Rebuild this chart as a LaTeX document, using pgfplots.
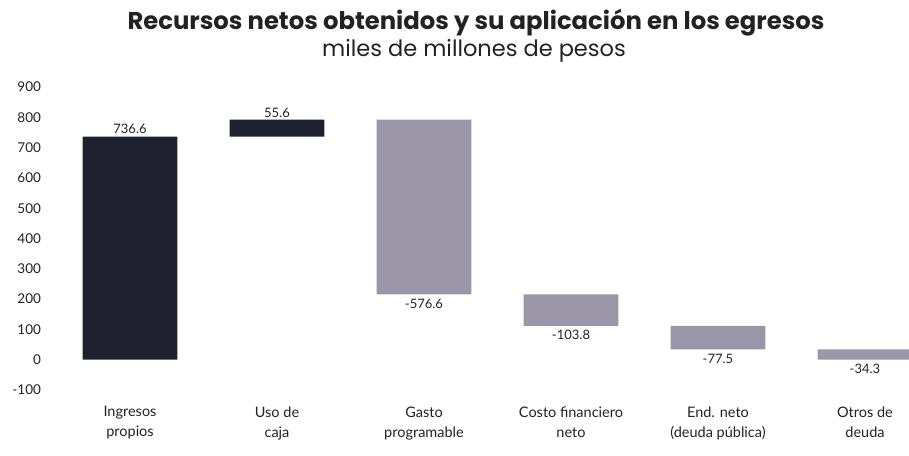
\documentclass[border=0pt]{standalone}
\usepackage{fontspec}
\setmainfont{Lato}
\newfontfamily\titlefont{Poppins}
\usepackage{pgfplots}
\usepackage{pgfplotstable}
\pgfplotsset{compat=1.18}
\definecolor{darkbar}{HTML}{1F222E}
\definecolor{greybar}{HTML}{9C97A8}
\definecolor{txt}{HTML}{222222}

\pgfplotstableread{
x base dark grey
0 0     736.6 0
1 736.6 55.6  0
2 215.6 0     576.6
3 111.8 0     103.8
4 34.3  0     77.5
5 0     0     34.3
}\wf

\pgfplotstableread{
x y label
0 736.6 736.6
1 792.2 55.6
}\poslab

\pgfplotstableread{
x y label
2 215.6 -576.6
3 111.8 -103.8
4 34.3 -77.5
5 0 -34.3
}\neglab

\begin{document}
\begin{tikzpicture}[x=1pt,y=1pt]
\path[use as bounding box] (0,0) rectangle (909,455);
\node[font=\titlefont\bfseries\fontsize{24.3}{28}\selectfont, text=txt] at (476,432) {Recursos netos obtenidos y su aplicación en los egresos};
\node[font=\titlefont\fontsize{22.5}{26}\selectfont, text=txt] at (474,404) {miles de millones de pesos};

\begin{axis}[
  at={(56.5pt,65pt)}, anchor=south west,
  scale only axis, width=882pt, height=303pt,
  xmin=-0.5, xmax=5.5, ymin=-100, ymax=900,
  axis line style={draw=none},
  major tick length=0pt,
  ytick={-100,0,100,...,900},
  xtick={0,...,5},
  xticklabels={{Ingresos\\propios},{Uso de\\caja},{Gasto\\programable},{Costo financiero\\neto},{End. neto\\(deuda pública)},{Otros de\\deuda}},
  xticklabel style={align=center, font=\fontsize{14.5}{20}\selectfont, text=txt, yshift=-13pt},
  yticklabel style={font=\fontsize{13.5}{16}\selectfont, text=txt, anchor=east, xshift=-12pt},
  /pgf/number format/assume math mode=true,
  ybar stacked, bar width=0.646,
  clip=false,
]
\addplot[draw=none, fill=none] table[x=x, y=base] {\wf};
\addplot[draw=none, fill=darkbar] table[x=x, y=dark] {\wf};
\addplot[draw=none, fill=greybar] table[x=x, y=grey] {\wf};
\end{axis}

\begin{axis}[
  at={(56.5pt,65pt)}, anchor=south west,
  scale only axis, width=882pt, height=303pt,
  xmin=-0.5, xmax=5.5, ymin=-100, ymax=900,
  hide axis, clip=false,
]
\addplot[only marks, mark=none, nodes near coords, point meta=explicit symbolic,
  nodes near coords style={anchor=south, font=\fontsize{13}{15}\selectfont, text=txt, yshift=-1pt}]
  table[x=x, y=y, meta=label] {\poslab};
\addplot[only marks, mark=none, nodes near coords, point meta=explicit symbolic,
  nodes near coords style={anchor=north, font=\fontsize{13}{15}\selectfont, text=txt, yshift=-1pt}]
  table[x=x, y=y, meta=label] {\neglab};
\end{axis}
\end{tikzpicture}
\end{document}
